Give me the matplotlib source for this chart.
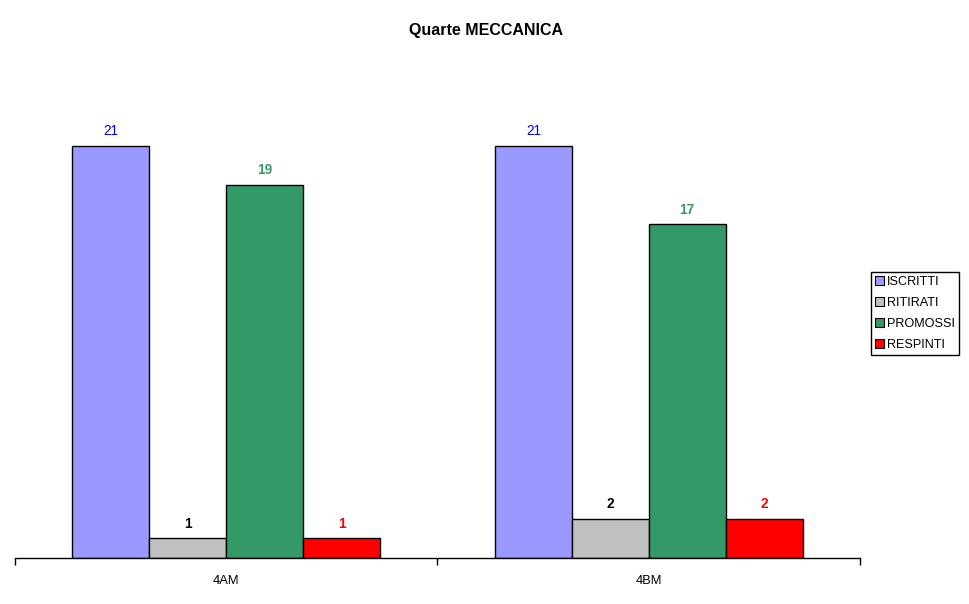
import numpy as np
import matplotlib.pyplot as plt
from matplotlib.patches import Patch

plt.rcParams['font.family'] = ['Liberation Sans', 'DejaVu Sans']

classes = ['4AM', '4BM']
series = ['ISCRITTI', 'RITIRATI', 'PROMOSSI', 'RESPINTI']
values = {
    'ISCRITTI': [21, 21],
    'RITIRATI': [1, 2],
    'PROMOSSI': [19, 17],
    'RESPINTI': [1, 2],
}
colors = ['#9999ff', '#c0c0c0', '#339966', '#ff0000']
label_colors = ['#0000ff', '#000000', '#339966', '#ff0000']
label_bold = [False, True, True, True]

fig = plt.figure(figsize=(9.7, 6.04), dpi=100)
W, H = 970, 604
ax = fig.add_axes([15 / W, (H - 558) / H, 845 / W, (558 - 87) / H])

x = np.arange(len(classes))
w = 77 / 423
for i, s in enumerate(series):
    xs = x + (i - 1.5) * w
    ax.bar(xs, values[s], width=w, color=colors[i], edgecolor='black', linewidth=1)
    for xi, v in zip(xs, values[s]):
        ax.text(xi, v + 0.4, str(v), ha='center', va='bottom', fontsize=9.8,
                color=label_colors[i], fontweight='bold' if label_bold[i] else 'normal')

ax.set_xlim(-0.5, 1.5)
ax.set_ylim(0, 24)
for sp in ['top', 'right', 'left']:
    ax.spines[sp].set_visible(False)
ax.spines['bottom'].set_linewidth(1)
ax.set_yticks([])
ax.set_xticks(x)
ax.set_xticklabels(classes, fontsize=9.3)
ax.tick_params(axis='x', which='major', length=0, pad=12)
ax.set_xticks([-0.5, 0.5, 1.5], minor=True)
ax.tick_params(axis='x', which='minor', length=5, width=1, direction='out')

fig.text(486 / W, 1 - 31 / H, 'Quarte MECCANICA', ha='center', va='center',
         fontsize=11.5, fontweight='bold')

handles = [Patch(facecolor=c, edgecolor='black', linewidth=0.8) for c in colors]
leg = fig.legend(handles, series, loc='upper left',
                 bbox_to_anchor=(871 / W, 1 - 272 / H), fontsize=9.1,
                 handlelength=0.7, handleheight=0.7, handletextpad=0.25,
                 labelspacing=0.72, borderpad=0.3, fancybox=False,
                 framealpha=1, borderaxespad=0)
leg.get_frame().set_edgecolor('black')
leg.get_frame().set_linewidth(1)

fig.savefig('out.png', dpi=100)
